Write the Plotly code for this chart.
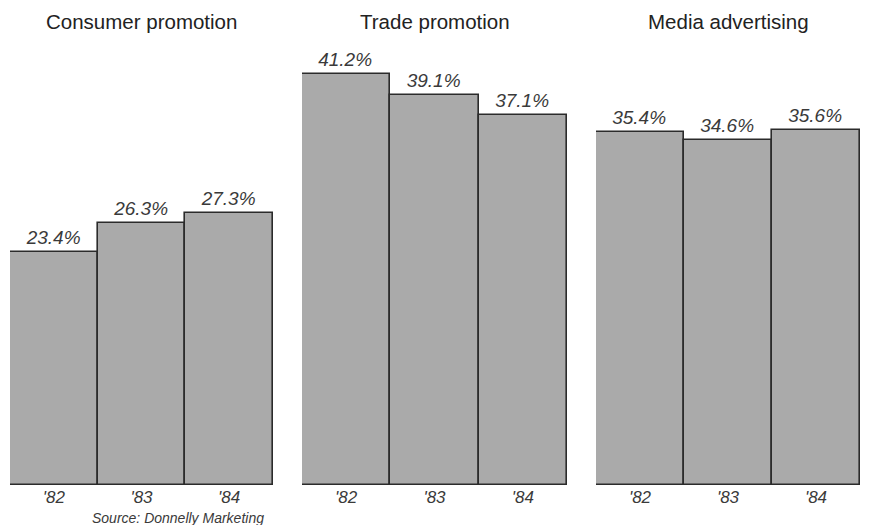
import plotly.graph_objects as go

# Share of marketing budgets by category, 1982-1984
panels = ["Consumer promotion", "Trade promotion", "Media advertising"]
years = ["'82", "'83", "'84"]
consumer_promotion = [23.4, 26.3, 27.3]
trade_promotion = [41.2, 39.1, 37.1]
media_advertising = [35.4, 34.6, 35.6]
series = [consumer_promotion, trade_promotion, media_advertising]

W, H = 869, 525
BAR_FILL = "#aaaaaa"
EDGE = "#2b2b2b"
TEXT = "#3a3a3a"
FONT = "Liberation Sans, Arial, sans-serif"

# horizontal extents of each panel, in pixels
panel_px = [(10, 273), (302, 567), (596, 860)]
y_dom = [(H - 485) / H, (H - 40) / H]
y_top = 44.6

fig = go.Figure()
for i, (name, vals) in enumerate(zip(panels, series)):
    xa = "x" if i == 0 else f"x{i+1}"
    ya = "y" if i == 0 else f"y{i+1}"
    fig.add_trace(go.Bar(
        x=years, y=vals, xaxis=xa, yaxis=ya,
        marker=dict(color=BAR_FILL, line=dict(color=EDGE, width=1.6)),
        text=[f"{v:.1f}%" for v in vals],
        textposition="outside",
        textfont=dict(family=FONT, size=19, color=TEXT, style="italic"),
        cliponaxis=False,
        showlegend=False,
        hoverinfo="skip",
    ))
    x0, x1 = panel_px[i]
    axkey = "xaxis" if i == 0 else f"xaxis{i+1}"
    aykey = "yaxis" if i == 0 else f"yaxis{i+1}"
    fig.layout[axkey] = dict(
        domain=[x0 / W, x1 / W], anchor=ya,
        showgrid=False, zeroline=False, showline=False, ticks="",
        ticklabelstandoff=0,
        tickfont=dict(family=FONT, size=17, color=TEXT, style="italic"),
    )
    fig.layout[aykey] = dict(
        domain=y_dom, anchor=xa, range=[0, y_top],
        showgrid=False, zeroline=False, showline=False,
        showticklabels=False, ticks="",
    )
    fig.add_annotation(
        text=name, xref="paper", yref="paper",
        x=(x0 + x1) / 2 / W, y=1 - 22 / H, xanchor="center", yanchor="middle",
        showarrow=False,
        font=dict(family=FONT, size=20.5, color="#222222"),
    )

fig.add_annotation(
    text="Source: Donnelly Marketing", xref="paper", yref="paper",
    x=91 / W, y=0, xanchor="left", yanchor="bottom", yshift=-2,
    showarrow=False, borderpad=0,
    font=dict(family=FONT, size=14, color=TEXT, style="italic"),
)

fig.update_layout(
    width=W, height=H,
    margin=dict(l=0, r=0, t=0, b=0),
    paper_bgcolor="white", plot_bgcolor="white",
    bargap=0,
)

fig.write_html("out.html")
